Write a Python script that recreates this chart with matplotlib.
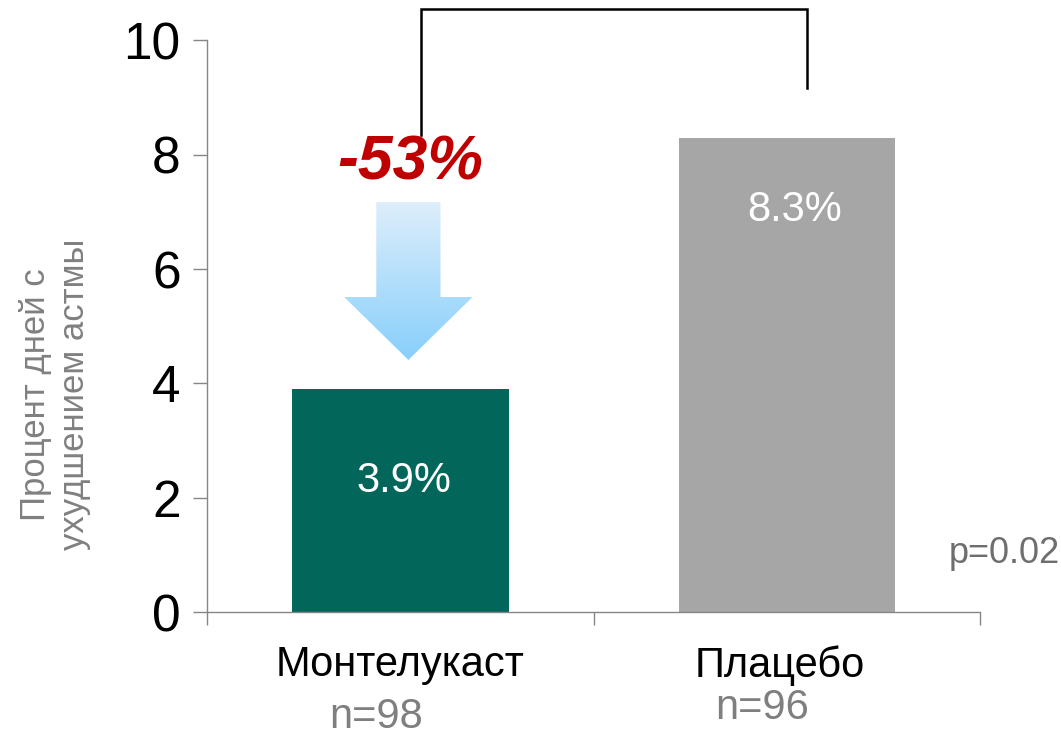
import numpy as np
import matplotlib
matplotlib.use("Agg")
import matplotlib.pyplot as plt
from matplotlib.patches import Polygon
from matplotlib.colors import LinearSegmentedColormap
from matplotlib import font_manager

categories = ["Монтелукаст", "Плацебо"]
values = [3.9, 8.3]
value_labels = ["3.9%", "8.3%"]
n_labels = ["n=98", "n=96"]
bar_colors = ["#02665A", "#A6A6A6"]
yticks = [0, 2, 4, 6, 8, 10]
ylabel = "Процент дней с\nухудшением астмы"
reduction_label = "-53%"
p_label = "p=0.02"

plt.rcParams['font.family'] = ['Liberation Sans', 'DejaVu Sans']
names = {f.name for f in font_manager.fontManager.ttflist}
narrow = ['Liberation Sans Narrow', 'Liberation Sans'] if 'Liberation Sans Narrow' in names else ['Liberation Sans']

fig = plt.figure(figsize=(10.61, 7.33), dpi=100)
ax = fig.add_axes([0.195, 0.165, 0.729, 0.780])

x = np.arange(len(categories))
ax.bar(x, values, width=0.56, color=bar_colors, zorder=2)

ax.set_xlim(-0.5, 1.5)
ax.set_ylim(0, 10)
ax.set_yticks(yticks)
ax.set_yticklabels([str(t) for t in yticks], fontsize=37)
ax.set_xticks([-0.5, 0.5, 1.5])
ax.set_xticklabels([])
ax.tick_params(axis='y', length=10, width=1, color='#868686', pad=9, direction='out')
ax.tick_params(axis='x', length=9, width=1, color='#868686', direction='out')
for s in ['top', 'right']:
    ax.spines[s].set_visible(False)
for s in ['left', 'bottom']:
    ax.spines[s].set_color('#868686')
    ax.spines[s].set_linewidth(1)

# value labels inside bars
ax.text(0.01, 2.3, value_labels[0], color='white', fontsize=30, ha='center', va='center')
ax.text(1.02, 7.03, value_labels[1], color='white', fontsize=30, ha='center', va='center')

# category labels and n
cat_size = 34 if len(narrow) > 1 else 30
ax.text(0.0, -0.93, categories[0], fontsize=cat_size, family=narrow, ha='center', va='center', clip_on=False)
ax.text(0.98, -0.93, categories[1], fontsize=cat_size, family=narrow, ha='center', va='center', clip_on=False)
ax.text(-0.063, -1.84, n_labels[0], fontsize=cat_size, family=narrow, color='#7F7F7F', ha='center', va='center', clip_on=False)
ax.text(0.935, -1.68, n_labels[1], fontsize=cat_size, family=narrow, color='#7F7F7F', ha='center', va='center', clip_on=False)

# y label
fig.text(0.052, 0.462, ylabel, rotation=90, fontsize=25, color='#808080',
         ha='center', va='center', linespacing=1.25)

# p value
ax.text(1.562, 1.03, p_label, fontsize=26, color='#6E6E6E', ha='center', va='center', clip_on=False)

# bracket
ax.plot([0.053, 0.053, 1.053, 1.053], [8.35, 10.54, 10.54, 9.16], color='black',
        lw=1.8, clip_on=False, zorder=3, solid_joinstyle='miter')

# reduction label
ax.text(0.025, 7.85, reduction_label, fontsize=45, color='#C00000', fontweight='bold',
        fontstyle='italic', ha='center', va='center')

# gradient arrow
cx = 0.021
shaft_half = 0.083
head_half = 0.166
y_top, y_head, y_tip = 7.17, 5.51, 4.41
verts = [(cx - shaft_half, y_top), (cx + shaft_half, y_top), (cx + shaft_half, y_head),
         (cx + head_half, y_head), (cx, y_tip), (cx - head_half, y_head),
         (cx - shaft_half, y_head)]
poly = Polygon(verts, closed=True, facecolor='none', edgecolor='none', transform=ax.transData)
ax.add_patch(poly)
cmap = LinearSegmentedColormap.from_list('arr', ['#88CFFB', '#DDEEFB'])
grad = np.linspace(0, 1, 256).reshape(-1, 1)
im = ax.imshow(grad, extent=[cx - head_half, cx + head_half, y_tip, y_top], origin='lower',
               aspect='auto', cmap=cmap, zorder=3)
im.set_clip_path(poly)
ax.set_xlim(-0.5, 1.5)
ax.set_ylim(0, 10)

fig.savefig('out.png', dpi=100)
